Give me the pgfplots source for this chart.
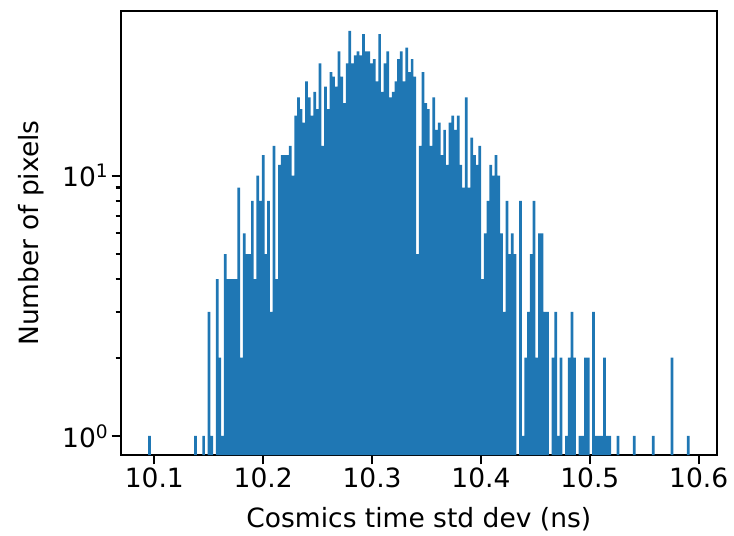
\documentclass[border=0pt]{standalone}
\usepackage{pgfplots}
\pgfplotsset{compat=1.18}
\usepackage{fontspec}
\setmainfont{DejaVu Sans}
\definecolor{mplblue}{HTML}{1F77B4}
\begin{document}
\begin{tikzpicture}[font=\fontsize{26.5bp}{32bp}\selectfont]
\useasboundingbox (-121bp,-81bp) rectangle (613bp,455bp);
\begin{axis}[
  at={(0,0)}, anchor=south west,
  width=595.7bp, height=444bp, scale only axis,
  ymode=log, log origin=infty,
  xmin=10.0694, xmax=10.6165, ymin=0.845, ymax=42.9,
  xtick={10.1,10.2,10.3,10.4,10.5,10.6},
  xticklabels={10.1,10.2,10.3,10.4,10.5,10.6},
  ytick={1,10}, yticklabels={10\textsuperscript{0},10\textsuperscript{1}},
  tick align=outside, tick pos=left,
  major tick length=9.3bp, minor tick length=5.3bp,
  every tick/.style={black, line width=2.1bp},
  axis line style={line width=2.1bp},
  xlabel={Cosmics time std dev (ns)},
  ylabel={Number of pixels},
  xlabel style={at={(axis description cs:0.5,0)}, anchor=base, yshift=-72bp},
  ylabel style={at={(axis description cs:-0.1385,0.5)}, anchor=base, rotate=0},
  /pgf/number format/assume math mode=true,
  ybar, bar width=0.00251, bar shift=0pt,
]
\addplot[fill=mplblue, draw=none] table {
x y
10.09554 1
10.13782 1
10.14528 1
10.15026 3
10.15274 1
10.15772 4
10.16021 2
10.16269 1
10.16518 5
10.16767 4
10.17015 4
10.17264 4
10.17513 4
10.17761 9
10.18010 2
10.18259 6
10.18507 5
10.18756 5
10.19005 8
10.19254 4
10.19502 10
10.19751 8
10.20000 12
10.20248 5
10.20497 8
10.20746 3
10.20994 13
10.21243 4
10.21492 11
10.21740 12
10.21989 12
10.22238 12
10.22486 13
10.22735 10
10.22984 17
10.23232 20
10.23481 18
10.23730 16
10.23979 23
10.24227 20
10.24476 17
10.24725 21
10.24973 18
10.25222 27
10.25471 13
10.25719 22
10.25968 18
10.26217 25
10.26465 24
10.26714 22
10.26963 30
10.27211 24
10.27460 19
10.27709 27
10.27957 36
10.28206 27
10.28455 29
10.28704 30
10.28952 29
10.29201 35
10.29450 30
10.29698 30
10.29947 27
10.30196 28
10.30444 23
10.30693 35
10.30942 21
10.31190 27
10.31439 30
10.31688 20
10.31937 21
10.32185 23
10.32434 28
10.32683 30
10.32931 23
10.33180 31
10.33429 25
10.33677 28
10.33926 24
10.34175 5
10.34424 13
10.34672 25
10.34921 19
10.35170 18
10.35418 13
10.35667 20
10.35916 15
10.36164 16
10.36413 12
10.36662 15
10.36911 11
10.37159 16
10.37408 17
10.37657 15
10.37905 17
10.38154 11
10.38403 9
10.38651 20
10.38900 9
10.39149 14
10.39398 12
10.39646 11
10.39895 13
10.40144 4
10.40392 6
10.40641 8
10.40890 11
10.41138 10
10.41387 12
10.41636 10
10.41885 6
10.42133 3
10.42382 8
10.42631 5
10.42879 6
10.43128 5
10.43625 8
10.43874 1
10.44123 2
10.44372 3
10.44620 5
10.44869 8
10.45118 2
10.45366 6
10.45615 6
10.45864 3
10.46112 3
10.46610 2
10.46859 3
10.47107 1
10.47356 2
10.47853 1
10.48102 2
10.48351 3
10.48599 2
10.49097 1
10.49346 1
10.49594 2
10.49843 2
10.50340 3
10.50589 1
10.50838 1
10.51087 1
10.51335 2
10.51584 1
10.51833 1
10.52579 1
10.54071 1
10.55812 1
10.57553 2
10.59045 1
};
\end{axis}
\end{tikzpicture}
\end{document}
